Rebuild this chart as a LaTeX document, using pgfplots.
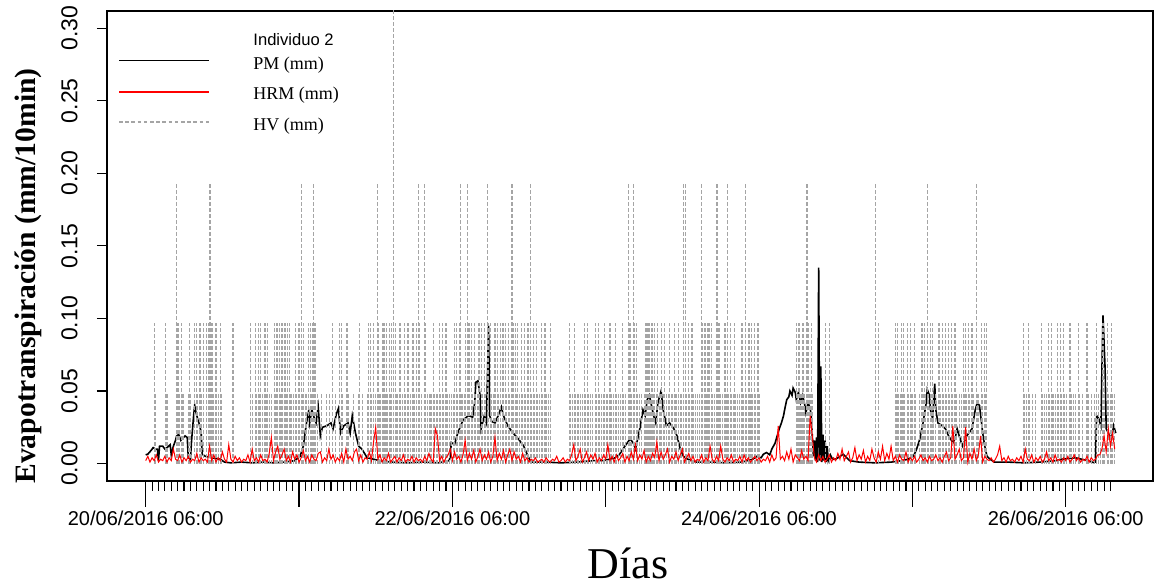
\documentclass[border=0pt]{standalone}
\usepackage{fontspec}
\setmainfont{Liberation Serif}
\setsansfont{Liberation Sans}
\usepackage{pgfplots}
\pgfplotsset{compat=1.18}
\definecolor{hvgray}{RGB}{165,165,165}
\begin{document}
\begin{tikzpicture}
\begin{axis}[
  scale only axis, width=523pt, height=235.15pt,
  xmin=-36.35, xmax=945.96, ymin=-0.012, ymax=0.312,
  axis line style={line width=0.9pt, black},
  tick align=outside, tick pos=left,
  every tick/.style={black, line width=0.55pt},
  xtick={0,6,...,906},
  xticklabels={},
  major tick length=5pt,
  extra x ticks={0,144,288,432,576,720,864},
  extra x tick labels={20/06/2016 06:00,,22/06/2016 06:00,,24/06/2016 06:00,,26/06/2016 06:00},
  extra x tick style={major tick length=13pt, tick label style={font=\fontsize{10}{12}\selectfont\sffamily, anchor=north, inner sep=0pt, yshift=-2pt}},
  ytick={0,0.05,0.1,0.15,0.2,0.25,0.3},
  /pgf/number format/assume math mode=true,
  y tick label style={/pgf/number format/fixed, /pgf/number format/fixed zerofill, /pgf/number format/precision=2,
     font=\fontsize{11.5}{12}\selectfont\sffamily, xshift=-9.5pt, rotate=90, anchor=south, inner sep=0pt},
  xlabel={Días},
  xlabel style={at={(axis description cs:0.498,-0.2063)}, anchor=base, font=\fontsize{22}{24}\selectfont, inner sep=0pt},
  ylabel={Evapotranspiración (mm/10min)},
  ylabel style={at={(axis description cs:-0.0684,0.436)}, anchor=base, font=\fontsize{14.8}{16}\selectfont\bfseries, inner sep=0pt},
]
% PM (black)
\addplot[black, line width=0.8pt, mark=none] coordinates {
(0,0.006)(2,0.0065)(5,0.009)(7,0.011)(9,0.010)(11,0.010)(12,0.002)(13,0.012)(16,0.012)(18,0.010)(20,0.011)(23,0.013)(24,0.006)(26,0.012)(28,0.016)(29,0.019)(31,0.020)(33,0.016)(34,0.017)(37,0.019)(39,0.018)(40,0.004)(42,0.003)(43,0.015)(44,0.024)(45,0.033)(46,0.040)(47,0.036)(48,0.033)(49,0.030)(50,0.028)(52,0.022)(53,0.0065)(56,0.005)(62,0.004)(70,0.003)(74,0.001)(80,0.0005)(90,0.001)(100,0.0005)(110,0.001)(120,0.0005)(130,0.001)(140,0.002)
(145,0.005)(148,0.012)(151,0.028)(153,0.036)(154,0.028)(156,0.037)(158,0.032)(160,0.028)(162,0.039)(164,0.019)(166,0.025)(170,0.026)(174,0.028)(176,0.024)(179,0.034)(181,0.038)(183,0.021)(186,0.026)(190,0.028)(192,0.021)(194,0.033)(197,0.021)(200,0.012)(203,0.010)(208,0.004)(214,0.003)(220,0.002)(230,0.001)(245,0.0005)(260,0.001)(275,0.0005)(285,0.002)
(286,0.005)(287,0.0145)(290,0.013)(293,0.021)(298,0.030)(303,0.033)(307,0.032)(309,0.042)(310,0.056)(312,0.057)(314,0.047)(315,0.024)(318,0.033)(320,0.028)(322,0.095)(323,0.033)(325,0.029)(328,0.028)(331,0.033)(334,0.039)(336,0.033)(340,0.026)(345,0.021)(350,0.017)(355,0.012)(359,0.005)(362,0.001)(375,0.001)(390,0.0005)(405,0.001)(420,0.002)(430,0.002)
(441,0.004)(445,0.0064)(450,0.012)(455,0.017)(458,0.014)(460,0.010)(464,0.024)(467,0.037)(469,0.033)(471,0.044)(473,0.047)(477,0.033)(479,0.028)(481,0.042)(484,0.050)(486,0.037)(489,0.026)(492,0.028)(496,0.024)(499,0.019)(502,0.010)(505,0.005)(509,0.003)(517,0.001)(530,0.001)(545,0.0005)(560,0.001)(570,0.003)
(574,0.005)(578,0.004)(580,0.0064)(583,0.0076)(586,0.006)(588,0.010)(591,0.014)(593,0.019)(595,0.024)(597,0.028)(599,0.033)(600,0.037)(602,0.044)(604,0.046)(605,0.050)(607,0.047)(608,0.052)(610,0.049)(611,0.044)(613,0.049)(615,0.042)(617,0.047)(619,0.040)(620,0.035)(622,0.042)(624,0.038)(625,0.033)(626,0.019)(627,0.005)(628,0.016)(629,0.002)(630,0.018)(631,0.001)(632,0.135)(633,0.002)(634,0.067)(635,0.001)(636,0.020)(637,0.002)(638,0.016)(639,0.001)(640,0.012)(641,0.002)(643,0.006)(645,0.003)(648,0.003)(655,0.0064)(661,0.002)(670,0.001)(685,0.0005)(700,0.001)(710,0.002)
(716,0.003)(721,0.005)(724,0.010)(727,0.017)(730,0.028)(733,0.042)(734,0.051)(736,0.047)(737,0.037)(739,0.031)(740,0.044)(741,0.055)(742,0.037)(744,0.028)(748,0.026)(751,0.024)(754,0.019)(758,0.0145)(760,0.017)(762,0.024)(764,0.019)(767,0.012)(771,0.019)(776,0.024)(779,0.037)(781,0.042)(783,0.040)(785,0.028)(786,0.021)(788,0.012)(790,0.005)(793,0.003)(797,0.001)(810,0.001)(825,0.0005)(840,0.001)(855,0.002)
(860,0.003)(873,0.004)(885,0.002)(890,0.0007)(892,0.001)(893,0.033)(895,0.031)(897,0.026)(898,0.065)(899,0.102)(901,0.065)(902,0.024)(904,0.021)(907,0.017)(909,0.026)(911,0.021)
};

% HV (gray dashed)
\addplot[ycomb, hvgray, line width=0.55pt, dash pattern=on 2pt off 1pt, mark=none] coordinates {
(8,0.097)(9,0.048)(19,0.097)(20,0.048)(29,0.193)(30,0.097)(31,0.097)(32,0.048)(34,0.097)(35,0.048)(40,0.048)(41,0.097)(42,0.048)(46,0.097)(48,0.097)(49,0.048)(51,0.097)(52,0.048)(54,0.097)(57,0.097)(59,0.097)(60,0.193)(61,0.193)(62,0.097)(63,0.097)(64,0.048)(66,0.097)(68,0.048)(70,0.097)(71,0.048)(82,0.097)
(98,0.097)(100,0.048)(103,0.097)(104,0.048)(106,0.097)(107,0.048)(108,0.097)(110,0.048)(112,0.097)(113,0.048)(114,0.097)(116,0.048)(118,0.048)(121,0.097)(122,0.048)(123,0.097)(124,0.097)(126,0.097)(127,0.048)(128,0.097)(130,0.097)(131,0.097)(132,0.048)(133,0.097)(135,0.097)(136,0.048)(137,0.048)(139,0.048)(141,0.097)(142,0.048)(144,0.097)(146,0.193)(147,0.048)(148,0.097)(150,0.048)(151,0.048)(153,0.097)(155,0.097)(156,0.048)(157,0.097)(158,0.193)(159,0.097)(161,0.048)(165,0.048)(170,0.048)(173,0.048)(175,0.097)(178,0.048)(182,0.097)(184,0.097)(185,0.048)(189,0.097)(190,0.048)(195,0.048)(200,0.048)(201,0.097)(204,0.048)(208,0.048)(209,0.097)(211,0.097)(212,0.048)(214,0.097)(216,0.048)(218,0.193)(219,0.097)(220,0.048)(222,0.097)(223,0.097)(224,0.097)(225,0.048)(226,0.097)
(227,0.048)(229,0.097)(230,0.048)(231,0.097)(233,0.39)(235,0.097)(236,0.048)(238,0.097)(239,0.097)(241,0.048)(243,0.097)(244,0.048)(246,0.097)(247,0.097)(249,0.048)(251,0.097)(252,0.048)(254,0.097)(256,0.193)(257,0.097)(259,0.048)(262,0.193)(263,0.097)(265,0.048)(267,0.048)(268,0.048)(270,0.097)(271,0.048)(273,0.048)(274,0.048)(276,0.097)(277,0.048)(279,0.097)(280,0.048)(282,0.097)(283,0.048)(285,0.048)(287,0.048)(289,0.048)(290,0.097)(292,0.097)(293,0.048)(295,0.097)(296,0.193)(297,0.048)(299,0.048)(300,0.097)(302,0.193)(303,0.097)(304,0.097)(306,0.097)(307,0.048)(309,0.097)(310,0.048)(312,0.048)(313,0.097)(315,0.097)(316,0.048)(318,0.097)(319,0.048)(321,0.193)(322,0.097)(324,0.097)(325,0.048)(327,0.048)(328,0.097)(330,0.097)(331,0.048)(333,0.097)(335,0.097)(336,0.097)(338,0.097)(339,0.048)(341,0.097)(342,0.048)(344,0.193)(345,0.097)(347,0.097)(348,0.048)(349,0.097)(351,0.048)(353,0.097)(354,0.048)(356,0.097)(357,0.048)(359,0.097)(361,0.193)(362,0.048)(364,0.097)(365,0.048)(367,0.097)(368,0.048)(370,0.048)(372,0.097)(373,0.048)(375,0.097)(376,0.048)(378,0.048)(380,0.097)
(398,0.097)(399,0.048)(401,0.048)(403,0.097)(404,0.048)(406,0.048)(408,0.048)(410,0.048)(412,0.097)(413,0.048)(415,0.097)(416,0.048)(418,0.048)(420,0.048)(422,0.097)(423,0.048)(425,0.097)(426,0.048)(428,0.048)(430,0.048)(431,0.097)(433,0.048)(434,0.048)(436,0.097)(437,0.048)(439,0.048)(441,0.097)(442,0.048)(444,0.048)(446,0.048)(448,0.097)(449,0.048)(451,0.048)(453,0.193)(454,0.097)(455,0.097)(456,0.048)(458,0.193)(459,0.097)(461,0.097)(462,0.048)(464,0.048)(466,0.048)(468,0.048)(469,0.097)(470,0.097)(471,0.097)(472,0.097)(473,0.097)(474,0.048)(475,0.097)(476,0.097)(477,0.048)(478,0.097)(480,0.048)(481,0.097)(483,0.048)(484,0.097)(486,0.048)(487,0.097)(489,0.048)(491,0.048)(492,0.097)(494,0.048)(495,0.048)(497,0.097)(498,0.048)(500,0.097)(502,0.048)(503,0.048)(505,0.193)(507,0.193)(508,0.048)(510,0.097)(511,0.048)(513,0.097)(514,0.048)(516,0.048)(518,0.048)(520,0.048)(522,0.193)(523,0.097)(525,0.097)(526,0.097)(527,0.048)(528,0.097)(529,0.097)(531,0.097)(532,0.048)(534,0.048)(536,0.193)(537,0.193)(538,0.097)(539,0.097)(540,0.048)(542,0.048)(544,0.097)(545,0.048)(546,0.193)(547,0.048)(549,0.097)(550,0.048)(552,0.048)(553,0.097)(554,0.048)(556,0.048)(558,0.048)(560,0.097)(561,0.048)(563,0.193)(564,0.048)(566,0.097)(567,0.097)(568,0.048)(569,0.097)(570,0.048)(572,0.097)(573,0.048)(575,0.097)(576,0.048)
(611,0.097)(612,0.048)(613,0.097)(614,0.097)(615,0.048)(616,0.048)(617,0.097)(618,0.097)(619,0.048)(621,0.193)(622,0.097)(623,0.048)(624,0.048)(625,0.097)(626,0.048)(638,0.097)(642,0.097)(685,0.193)(688,0.097)
(704,0.097)(705,0.048)(706,0.097)(707,0.048)(709,0.048)(710,0.097)(711,0.048)(712,0.097)(713,0.048)(715,0.097)(716,0.048)(718,0.097)(719,0.048)(720,0.048)(722,0.097)(723,0.048)(727,0.048)(729,0.097)(730,0.048)(731,0.097)(732,0.048)(734,0.193)(735,0.048)(737,0.097)(738,0.048)(739,0.097)(740,0.048)(742,0.048)(745,0.097)(746,0.048)(748,0.097)(749,0.048)(751,0.097)(752,0.048)(754,0.097)(755,0.048)(757,0.097)(758,0.048)(760,0.097)(761,0.048)(764,0.048)(766,0.048)(768,0.097)(769,0.048)(770,0.097)(771,0.048)(773,0.097)(774,0.048)(776,0.097)(777,0.048)(780,0.193)(781,0.048)(782,0.048)(785,0.097)(786,0.048)(788,0.097)(789,0.048)(790,0.097)
(824,0.097)(825,0.048)(827,0.048)(829,0.097)(830,0.048)(833,0.048)(836,0.048)(841,0.097)(842,0.048)(844,0.048)(846,0.048)(848,0.097)(849,0.048)(851,0.097)(852,0.048)(854,0.048)(856,0.097)(857,0.048)(859,0.097)(860,0.048)(862,0.097)(863,0.048)(865,0.048)(868,0.097)(869,0.048)(871,0.048)(873,0.048)(876,0.097)(877,0.048)(880,0.048)(884,0.097)(885,0.048)(888,0.048)(891,0.048)(893,0.097)(895,0.048)(897,0.048)(899,0.097)(900,0.048)(903,0.097)(904,0.048)(906,0.048)(907,0.097)(908,0.048)(910,0.048)
};

% HRM (red)
\addplot[red, line width=0.5pt, mark=none] coordinates {
(0,0.002)(2,0.005)(4,0.001)(6,0.004)(8,0.002)(10,0.006)(12,0.001)(14,0.003)(16,0.002)(18,0.005)
(20,0.001)(22,0.004)(24,0.002)(26,0.010)(28,0.003)(30,0.002)(32,0.006)(34,0.001)(36,0.004)(38,0.002)
(40,0.005)(42,0.001)(44,0.003)(46,0.002)(48,0.007)(50,0.001)(52,0.004)(54,0.002)(56,0.003)(58,0.001)
(60,0.012)(62,0.002)(64,0.006)(66,0.001)(68,0.004)(70,0.002)(72,0.008)(74,0.003)(76,0.001)(78,0.013)
(80,0.003)(82,0.001)(84,0.005)(86,0.002)(88,0.004)(90,0.001)(92,0.003)(94,0.002)(96,0.006)(98,0.001)
(100,0.010)(102,0.002)(104,0.004)(106,0.001)(108,0.006)(110,0.002)(112,0.003)(114,0.001)(116,0.007)(118,0.018)
(120,0.002)(122,0.008)(124,0.012)(126,0.003)(128,0.006)(130,0.010)(132,0.002)(134,0.005)(136,0.001)(138,0.008)
(140,0.003)(142,0.006)(144,0.001)(146,0.004)(148,0.009)(150,0.002)(152,0.005)(154,0.001)(156,0.006)(158,0.003)
(160,0.002)(162,0.007)(164,0.008)(166,0.001)(168,0.004)(170,0.002)(172,0.010)(174,0.003)(176,0.006)(178,0.001)
(180,0.004)(182,0.002)(184,0.007)(186,0.001)(188,0.010)(190,0.003)(192,0.005)(194,0.002)(196,0.008)(198,0.010)
(200,0.002)(202,0.006)(204,0.001)(206,0.004)(208,0.003)(210,0.008)(212,0.002)(214,0.015)(216,0.025)(218,0.003)
(220,0.006)(222,0.001)(224,0.004)(226,0.002)(228,0.007)(230,0.001)(232,0.003)(234,0.005)(236,0.001)(238,0.004)
(240,0.002)(242,0.006)(244,0.001)(246,0.003)(248,0.002)(250,0.005)(252,0.001)(254,0.004)(256,0.002)(258,0.003)
(260,0.001)(262,0.005)(264,0.002)(266,0.007)(268,0.003)(270,0.001)(272,0.024)(274,0.019)(276,0.002)(278,0.005)
(280,0.001)(282,0.004)(284,0.006)(286,0.010)(288,0.002)(290,0.008)(292,0.003)(294,0.005)(296,0.001)(298,0.006)
(300,0.016)(302,0.002)(304,0.007)(306,0.003)(308,0.009)(310,0.001)(312,0.005)(314,0.010)(316,0.002)(318,0.006)
(320,0.003)(322,0.008)(324,0.001)(326,0.005)(328,0.018)(330,0.002)(332,0.007)(334,0.003)(336,0.009)(338,0.001)
(340,0.006)(342,0.010)(344,0.002)(346,0.008)(348,0.003)(350,0.005)(352,0.001)(354,0.007)(356,0.002)(358,0.004)
(360,0.001)(362,0.003)(364,0.002)(366,0.004)(368,0.001)(370,0.002)(372,0.003)(374,0.001)(376,0.004)(378,0.002)
(380,0.001)(382,0.003)(384,0.002)(386,0.005)(388,0.001)(390,0.002)(392,0.004)(394,0.001)(396,0.003)(398,0.002)
(400,0.006)(402,0.013)(404,0.002)(406,0.005)(408,0.010)(410,0.001)(412,0.004)(414,0.008)(416,0.002)(418,0.006)
(420,0.003)(422,0.007)(424,0.001)(426,0.004)(428,0.002)(430,0.006)(432,0.003)(434,0.013)(436,0.002)(438,0.005)
(440,0.001)(442,0.006)(444,0.002)(446,0.004)(448,0.007)(450,0.001)(452,0.005)(454,0.002)(456,0.008)(458,0.003)
(460,0.013)(462,0.002)(464,0.006)(466,0.003)(468,0.009)(470,0.001)(472,0.005)(474,0.002)(476,0.007)(478,0.004)
(480,0.015)(482,0.002)(484,0.008)(486,0.003)(488,0.006)(490,0.010)(492,0.001)(494,0.005)(496,0.003)(498,0.008)
(500,0.002)(502,0.006)(504,0.010)(506,0.001)(508,0.004)(510,0.007)(512,0.002)(514,0.005)(516,0.001)(518,0.003)
(520,0.002)(522,0.006)(524,0.001)(526,0.004)(528,0.002)(530,0.012)(532,0.003)(534,0.001)(536,0.005)(538,0.002)
(540,0.012)(542,0.003)(544,0.001)(546,0.004)(548,0.002)(550,0.006)(552,0.001)(554,0.003)(556,0.002)(558,0.005)
(560,0.001)(562,0.006)(564,0.002)(566,0.004)(568,0.001)(570,0.003)(572,0.005)(574,0.002)(576,0.004)(578,0.001)
(580,0.003)(582,0.002)(584,0.005)(586,0.001)(588,0.006)(590,0.002)(592,0.004)(594,0.026)(596,0.003)(598,0.005)
(600,0.002)(602,0.008)(604,0.003)(606,0.010)(608,0.001)(610,0.006)(612,0.004)(614,0.002)(616,0.009)(618,0.003)
(620,0.005)(622,0.002)(624,0.033)(626,0.019)(628,0.004)(630,0.001)(632,0.006)(634,0.002)(636,0.005)(638,0.001)
(640,0.003)(642,0.006)(644,0.001)(646,0.004)(648,0.002)(650,0.007)(652,0.003)(654,0.010)(656,0.002)(658,0.005)
(660,0.008)(662,0.001)(664,0.004)(666,0.011)(668,0.002)(670,0.006)(672,0.003)(674,0.009)(676,0.001)(678,0.005)
(680,0.002)(682,0.010)(684,0.004)(686,0.001)(688,0.008)(690,0.003)(692,0.012)(694,0.002)(696,0.007)(698,0.003)
(700,0.012)(702,0.002)(704,0.005)(706,0.001)(708,0.006)(710,0.003)(712,0.002)(714,0.008)(716,0.001)(718,0.004)
(720,0.002)(722,0.005)(724,0.001)(726,0.003)(728,0.006)(730,0.002)(732,0.004)(734,0.001)(736,0.005)(738,0.002)
(740,0.003)(742,0.006)(744,0.002)(746,0.004)(748,0.001)(750,0.005)(752,0.008)(754,0.002)(756,0.004)(758,0.026)
(760,0.003)(762,0.006)(764,0.010)(766,0.002)(768,0.004)(770,0.025)(772,0.001)(774,0.007)(776,0.003)(778,0.010)
(780,0.002)(782,0.006)(784,0.019)(786,0.001)(788,0.005)(790,0.003)(792,0.002)(794,0.004)(796,0.001)(798,0.003)
(800,0.006)(802,0.012)(804,0.002)(806,0.004)(808,0.001)(810,0.005)(812,0.002)(814,0.003)(816,0.001)(818,0.004)
(820,0.002)(822,0.005)(824,0.001)(826,0.010)(828,0.003)(830,0.002)(832,0.006)(834,0.001)(836,0.004)(838,0.002)
(840,0.005)(842,0.001)(844,0.003)(846,0.008)(848,0.002)(850,0.004)(852,0.001)(854,0.006)(856,0.002)(858,0.003)
(860,0.001)(862,0.004)(864,0.002)(866,0.005)(868,0.001)(870,0.003)(872,0.006)(874,0.002)(876,0.004)(878,0.001)
(880,0.003)(882,0.002)(884,0.005)(886,0.001)(888,0.004)(890,0.002)(892,0.003)(894,0.006)(896,0.006)(898,0.010)
(900,0.019)(902,0.008)(904,0.024)(906,0.012)(908,0.021)(910,0.010)
};

% legend
\draw[black, line width=0.8pt] (axis description cs:0.0115,0.8941) -- (axis description cs:0.0975,0.8941);
\draw[red, line width=0.6pt] (axis description cs:0.0115,0.8271) -- (axis description cs:0.0975,0.8271);
\draw[hvgray, line width=0.6pt, dash pattern=on 1.8pt off 1.3pt] (axis description cs:0.0115,0.7633) -- (axis description cs:0.0975,0.7633);
\node[anchor=base west, inner sep=0pt, font=\fontsize{8.3}{9}\selectfont\sffamily] at (axis description cs:0.1396,0.926) {Individuo 2};
\node[anchor=base west, inner sep=0pt, font=\fontsize{9}{10}\selectfont] at (axis description cs:0.1396,0.8755) {PM (mm)};
\node[anchor=base west, inner sep=0pt, font=\fontsize{9}{10}\selectfont] at (axis description cs:0.1396,0.8116) {HRM (mm)};
\node[anchor=base west, inner sep=0pt, font=\fontsize{9}{10}\selectfont] at (axis description cs:0.1396,0.7463) {HV (mm)};
\coordinate (bl) at (rel axis cs:0,0);
\coordinate (tr) at (rel axis cs:1,1);
\end{axis}
\pgfresetboundingbox
\path[use as bounding box] ([shift={(-53.5pt,-53.5pt)}]bl) rectangle ([shift={(2pt,5.35pt)}]tr);
\end{tikzpicture}
\end{document}
